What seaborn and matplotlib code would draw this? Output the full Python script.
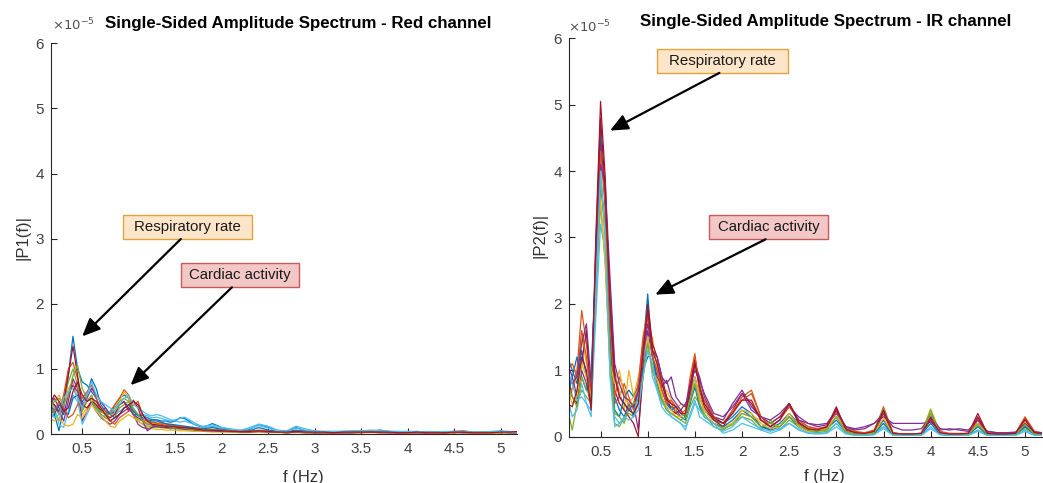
import pandas as pd
import matplotlib
matplotlib.use("Agg")
import matplotlib.pyplot as plt
from matplotlib.patches import Rectangle
import seaborn as sns

# Frequenzachse (Hz): fein bis 1.6 Hz, danach 0.1 Hz Schritte
freq_hz = [0.10, 0.15, 0.20, 0.25, 0.30, 0.35, 0.40, 0.45, 0.50, 0.55,
           0.60, 0.65, 0.70, 0.75, 0.80, 0.85, 0.90, 0.95, 1.00, 1.05,
           1.10, 1.15, 1.20, 1.25, 1.30, 1.35, 1.40, 1.45, 1.50, 1.55, 1.60,
           1.7, 1.8, 1.9, 2.0, 2.1, 2.2, 2.3, 2.4, 2.5, 2.6,
           2.7, 2.8, 2.9, 3.0, 3.1, 3.2, 3.3, 3.4, 3.5, 3.6,
           3.7, 3.8, 3.9, 4.0, 4.1, 4.2, 4.3, 4.4, 4.5, 4.6,
           4.7, 4.8, 4.9, 5.0, 5.1, 5.2]

# Amplituden in Einheiten von 1e-5, Rotkanal (eine Liste pro Messung)
red_spectra = [
    [0.5, 0.55, 0.3, 0.05, 0.4, 0.9, 1.5, 1.0, 0.8, 0.75, 0.65, 0.55, 0.35, 0.4, 0.3, 0.45, 0.55, 0.6, 0.55, 0.3,
     0.3, 0.28, 0.25, 0.22, 0.22, 0.2, 0.2, 0.18, 0.2, 0.25, 0.24,
     0.15, 0.1, 0.16, 0.1, 0.06, 0.05, 0.07, 0.15, 0.1, 0.05, 0.04, 0.1, 0.05, 0.04, 0.03, 0.03, 0.04, 0.04,
     0.03, 0.04, 0.06, 0.04, 0.03, 0.03, 0.04, 0.03, 0.03, 0.03, 0.04, 0.03, 0.02, 0.03, 0.03, 0.04, 0.03, 0.03],
    [0.4, 0.5, 0.45, 0.3, 0.6, 1.0, 1.1, 0.85, 0.4, 0.5, 0.55, 0.45, 0.3, 0.25, 0.35, 0.45, 0.55, 0.68, 0.6, 0.35,
     0.3, 0.22, 0.2, 0.18, 0.16, 0.17, 0.15, 0.14, 0.13, 0.12, 0.11,
     0.1, 0.08, 0.07, 0.06, 0.05, 0.04, 0.04, 0.06, 0.05, 0.04, 0.03, 0.05, 0.04, 0.03, 0.03, 0.03, 0.03, 0.04,
     0.05, 0.04, 0.05, 0.03, 0.03, 0.04, 0.03, 0.03, 0.03, 0.03, 0.04, 0.05, 0.03, 0.03, 0.03, 0.04, 0.03, 0.03],
    [0.3, 0.35, 0.5, 0.6, 0.45, 0.7, 0.8, 0.55, 0.3, 0.4, 0.5, 0.45, 0.4, 0.3, 0.25, 0.35, 0.5, 0.65, 0.55, 0.3,
     0.22, 0.2, 0.18, 0.15, 0.15, 0.14, 0.12, 0.12, 0.1, 0.1, 0.09,
     0.08, 0.06, 0.06, 0.05, 0.04, 0.04, 0.05, 0.05, 0.04, 0.04, 0.03, 0.04, 0.03, 0.03, 0.03, 0.03, 0.03, 0.03,
     0.04, 0.05, 0.04, 0.03, 0.02, 0.02, 0.03, 0.03, 0.02, 0.03, 0.03, 0.03, 0.02, 0.02, 0.02, 0.03, 0.02, 0.02],
    [0.35, 0.3, 0.4, 0.35, 0.2, 0.5, 0.85, 0.7, 0.2, 0.35, 0.5, 0.35, 0.25, 0.2, 0.15, 0.2, 0.3, 0.35, 0.4, 0.3,
     0.15, 0.1, 0.08, 0.1, 0.12, 0.1, 0.1, 0.08, 0.09, 0.08, 0.07,
     0.06, 0.05, 0.04, 0.04, 0.03, 0.03, 0.04, 0.04, 0.03, 0.03, 0.02, 0.03, 0.02, 0.02, 0.02, 0.02, 0.02, 0.02,
     0.03, 0.03, 0.02, 0.02, 0.02, 0.02, 0.02, 0.02, 0.02, 0.02, 0.02, 0.02, 0.02, 0.02, 0.02, 0.02, 0.02, 0.02],
    [0.45, 0.4, 0.35, 0.2, 0.5, 0.8, 1.0, 0.75, 0.35, 0.5, 0.6, 0.4, 0.3, 0.25, 0.2, 0.25, 0.4, 0.45, 0.5, 0.3,
     0.2, 0.15, 0.12, 0.12, 0.1, 0.1, 0.09, 0.09, 0.08, 0.08, 0.07,
     0.06, 0.05, 0.05, 0.04, 0.04, 0.03, 0.03, 0.04, 0.03, 0.03, 0.02, 0.03, 0.03, 0.02, 0.02, 0.02, 0.02, 0.03,
     0.03, 0.04, 0.05, 0.03, 0.02, 0.02, 0.03, 0.02, 0.02, 0.02, 0.02, 0.03, 0.02, 0.02, 0.02, 0.02, 0.02, 0.02],
    [0.55, 0.6, 0.4, 0.15, 0.1, 0.35, 0.6, 0.5, 0.15, 0.3, 0.45, 0.4, 0.25, 0.3, 0.35, 0.3, 0.35, 0.4, 0.45, 0.38,
     0.3, 0.3, 0.28, 0.25, 0.26, 0.24, 0.22, 0.2, 0.22, 0.24, 0.26,
     0.18, 0.1, 0.12, 0.08, 0.06, 0.05, 0.1, 0.15, 0.12, 0.06, 0.05, 0.12, 0.08, 0.05, 0.04, 0.04, 0.04, 0.04,
     0.04, 0.05, 0.06, 0.04, 0.04, 0.03, 0.03, 0.04, 0.03, 0.03, 0.03, 0.04, 0.03, 0.03, 0.04, 0.05, 0.04, 0.03],
    [0.7, 0.5, 0.45, 0.35, 0.5, 0.9, 1.35, 0.9, 0.45, 0.4, 0.5, 0.45, 0.35, 0.3, 0.25, 0.3, 0.45, 0.5, 0.35, 0.52,
     0.4, 0.2, 0.15, 0.14, 0.12, 0.12, 0.1, 0.1, 0.1, 0.09, 0.08,
     0.07, 0.05, 0.05, 0.05, 0.04, 0.03, 0.03, 0.04, 0.03, 0.03, 0.02, 0.03, 0.02, 0.02, 0.02, 0.02, 0.02, 0.02,
     0.02, 0.03, 0.02, 0.02, 0.02, 0.02, 0.02, 0.02, 0.02, 0.02, 0.02, 0.03, 0.02, 0.02, 0.02, 0.02, 0.03, 0.03],
    [0.3, 0.25, 0.3, 0.45, 0.35, 0.3, 0.55, 0.6, 0.5, 0.6, 0.85, 0.7, 0.45, 0.35, 0.3, 0.25, 0.3, 0.4, 0.45, 0.35,
     0.28, 0.25, 0.22, 0.2, 0.2, 0.18, 0.16, 0.15, 0.14, 0.13, 0.12,
     0.1, 0.08, 0.1, 0.07, 0.05, 0.04, 0.05, 0.1, 0.06, 0.04, 0.04, 0.06, 0.04, 0.03, 0.03, 0.03, 0.03, 0.03,
     0.03, 0.04, 0.05, 0.03, 0.03, 0.03, 0.03, 0.03, 0.03, 0.02, 0.03, 0.03, 0.02, 0.02, 0.03, 0.04, 0.03, 0.02],
    [0.25, 0.3, 0.35, 0.5, 0.4, 0.25, 0.3, 0.45, 0.55, 0.65, 0.75, 0.55, 0.4, 0.35, 0.2, 0.15, 0.25, 0.3, 0.35, 0.45,
     0.5, 0.3, 0.2, 0.18, 0.17, 0.15, 0.13, 0.12, 0.12, 0.11, 0.1,
     0.08, 0.07, 0.06, 0.06, 0.05, 0.04, 0.04, 0.05, 0.04, 0.03, 0.03, 0.04, 0.03, 0.03, 0.03, 0.03, 0.03, 0.03,
     0.03, 0.04, 0.04, 0.03, 0.03, 0.03, 0.03, 0.03, 0.02, 0.02, 0.03, 0.03, 0.02, 0.02, 0.02, 0.03, 0.02, 0.02],
    [0.2, 0.25, 0.2, 0.25, 0.15, 0.12, 0.15, 0.3, 0.25, 0.35, 0.45, 0.35, 0.28, 0.2, 0.12, 0.1, 0.2, 0.25, 0.3, 0.25,
     0.2, 0.15, 0.1, 0.08, 0.07, 0.07, 0.06, 0.06, 0.06, 0.05, 0.05,
     0.04, 0.04, 0.03, 0.03, 0.03, 0.02, 0.02, 0.03, 0.02, 0.02, 0.02, 0.02, 0.02, 0.02, 0.02, 0.02, 0.02, 0.02,
     0.02, 0.02, 0.02, 0.02, 0.02, 0.01, 0.02, 0.02, 0.01, 0.02, 0.02, 0.02, 0.01, 0.01, 0.01, 0.02, 0.02, 0.02],
    [0.5, 0.45, 0.55, 0.4, 0.3, 0.6, 0.75, 0.65, 0.45, 0.55, 0.7, 0.6, 0.5, 0.4, 0.3, 0.35, 0.45, 0.5, 0.4, 0.3,
     0.25, 0.2, 0.05, 0.1, 0.12, 0.1, 0.11, 0.1, 0.1, 0.09, 0.08,
     0.07, 0.05, 0.05, 0.04, 0.04, 0.03, 0.03, 0.04, 0.03, 0.03, 0.02, 0.03, 0.03, 0.02, 0.02, 0.02, 0.02, 0.02,
     0.03, 0.03, 0.03, 0.02, 0.02, 0.02, 0.02, 0.02, 0.02, 0.02, 0.03, 0.02, 0.02, 0.02, 0.02, 0.03, 0.02, 0.02],
    [0.3, 0.4, 0.5, 0.55, 0.45, 0.6, 0.9, 1.05, 0.7, 0.55, 0.5, 0.4, 0.35, 0.3, 0.3, 0.4, 0.5, 0.55, 0.5, 0.4,
     0.3, 0.2, 0.15, 0.15, 0.13, 0.12, 0.12, 0.11, 0.1, 0.1, 0.09,
     0.07, 0.06, 0.07, 0.05, 0.04, 0.04, 0.04, 0.05, 0.04, 0.03, 0.03, 0.04, 0.03, 0.03, 0.03, 0.03, 0.03, 0.03,
     0.04, 0.05, 0.04, 0.03, 0.03, 0.03, 0.03, 0.03, 0.03, 0.03, 0.03, 0.04, 0.03, 0.03, 0.03, 0.03, 0.03, 0.03],
    [0.45, 0.35, 0.25, 0.3, 0.55, 0.65, 0.7, 0.55, 0.4, 0.6, 0.8, 0.6, 0.5, 0.45, 0.4, 0.35, 0.45, 0.55, 0.6, 0.45,
     0.4, 0.35, 0.3, 0.28, 0.3, 0.28, 0.25, 0.22, 0.2, 0.18, 0.2,
     0.15, 0.12, 0.14, 0.1, 0.08, 0.06, 0.08, 0.13, 0.09, 0.05, 0.04, 0.09, 0.06, 0.04, 0.04, 0.04, 0.04, 0.05,
     0.05, 0.06, 0.05, 0.04, 0.04, 0.04, 0.04, 0.03, 0.03, 0.04, 0.04, 0.04, 0.03, 0.03, 0.03, 0.04, 0.03, 0.03],
    [0.4, 0.45, 0.6, 0.5, 0.35, 0.4, 0.65, 0.8, 0.6, 0.5, 0.55, 0.5, 0.4, 0.3, 0.2, 0.25, 0.3, 0.4, 0.45, 0.5,
     0.45, 0.3, 0.2, 0.15, 0.14, 0.13, 0.12, 0.12, 0.11, 0.1, 0.1,
     0.08, 0.06, 0.06, 0.05, 0.04, 0.04, 0.04, 0.05, 0.04, 0.03, 0.03, 0.04, 0.03, 0.03, 0.03, 0.02, 0.03, 0.03,
     0.03, 0.03, 0.03, 0.03, 0.02, 0.02, 0.03, 0.02, 0.02, 0.02, 0.03, 0.03, 0.02, 0.02, 0.02, 0.03, 0.03, 0.04],
]

# Amplituden in Einheiten von 1e-5, IR-Kanal
ir_spectra = [
    [1.15, 1.2, 1.0, 0.8, 1.3, 0.9, 0.6, 2.6, 4.6, 3.4, 1.6, 0.6, 0.4, 0.3, 0.5, 0.3, 0.7, 1.3, 2.15, 1.2,
     1.0, 0.7, 0.5, 0.45, 0.4, 0.3, 0.25, 0.6, 0.9, 0.6, 0.4,
     0.25, 0.2, 0.3, 0.45, 0.35, 0.15, 0.12, 0.2, 0.35, 0.2, 0.12, 0.1, 0.12, 0.3, 0.1, 0.06, 0.05, 0.06,
     0.25, 0.04, 0.03, 0.03, 0.04, 0.3, 0.06, 0.04, 0.03, 0.04, 0.2, 0.04, 0.03, 0.03, 0.04, 0.18, 0.05, 0.03],
    [0.9, 0.8, 0.7, 1.0, 1.9, 1.4, 0.7, 2.4, 3.9, 3.0, 1.3, 0.5, 0.6, 0.8, 0.6, 0.4, 0.8, 1.5, 1.9, 1.3,
     1.1, 0.8, 0.6, 0.5, 0.35, 0.3, 0.35, 0.8, 1.2, 0.8, 0.5,
     0.3, 0.2, 0.35, 0.6, 0.7, 0.3, 0.2, 0.3, 0.5, 0.25, 0.15, 0.12, 0.15, 0.4, 0.15, 0.08, 0.06, 0.1,
     0.38, 0.06, 0.04, 0.04, 0.05, 0.3, 0.08, 0.05, 0.05, 0.05, 0.28, 0.06, 0.04, 0.04, 0.05, 0.3, 0.08, 0.05],
    [0.6, 0.5, 0.7, 0.9, 1.5, 1.1, 0.8, 2.0, 4.2, 2.9, 1.4, 0.9, 0.7, 0.4, 1.0, 0.6, 0.9, 1.2, 1.4, 1.5,
     1.0, 0.6, 0.7, 0.55, 0.4, 0.5, 0.45, 0.7, 0.8, 0.55, 0.45,
     0.25, 0.15, 0.2, 0.35, 0.3, 0.25, 0.2, 0.15, 0.3, 0.2, 0.12, 0.1, 0.15, 0.3, 0.12, 0.06, 0.05, 0.08,
     0.2, 0.05, 0.04, 0.04, 0.05, 0.42, 0.06, 0.04, 0.04, 0.05, 0.15, 0.05, 0.04, 0.03, 0.04, 0.2, 0.05, 0.03],
    [1.3, 1.1, 0.9, 0.6, 1.0, 0.8, 0.45, 2.8, 4.4, 3.6, 2.2, 1.0, 0.6, 0.5, 0.4, 0.5, 0.1, 0.9, 1.6, 1.2,
     0.9, 0.75, 0.85, 0.6, 0.5, 0.4, 0.5, 0.6, 1.1, 0.9, 0.6,
     0.3, 0.25, 0.5, 0.7, 0.45, 0.3, 0.2, 0.3, 0.45, 0.3, 0.2, 0.15, 0.18, 0.35, 0.15, 0.1, 0.12, 0.2,
     0.3, 0.2, 0.2, 0.2, 0.2, 0.22, 0.1, 0.12, 0.1, 0.08, 0.2, 0.08, 0.06, 0.05, 0.06, 0.15, 0.06, 0.05],
    [0.8, 0.4, 0.1, 0.5, 0.7, 0.6, 0.5, 2.2, 3.5, 2.6, 1.0, 0.2, 0.15, 0.3, 0.35, 0.3, 0.5, 1.0, 1.3, 1.1,
     0.8, 0.6, 0.4, 0.35, 0.3, 0.25, 0.2, 0.45, 0.6, 0.5, 0.35,
     0.15, 0.1, 0.2, 0.3, 0.25, 0.1, 0.25, 0.1, 0.25, 0.15, 0.08, 0.06, 0.08, 0.2, 0.06, 0.03, 0.03, 0.05,
     0.15, 0.03, 0.02, 0.02, 0.03, 0.4, 0.04, 0.02, 0.02, 0.03, 0.1, 0.03, 0.02, 0.02, 0.03, 0.12, 0.03, 0.02],
    [0.7, 0.6, 0.3, 0.4, 0.8, 0.5, 0.4, 1.8, 3.2, 2.8, 1.2, 0.3, 0.2, 0.25, 0.4, 0.35, 0.6, 1.1, 1.5, 0.9,
     0.7, 0.5, 0.45, 0.3, 0.25, 0.2, 0.1, 0.35, 0.55, 0.3, 0.25,
     0.15, 0.08, 0.15, 0.3, 0.2, 0.12, 0.08, 0.12, 0.2, 0.12, 0.06, 0.05, 0.06, 0.2, 0.05, 0.02, 0.02, 0.03,
     0.15, 0.02, 0.02, 0.02, 0.02, 0.15, 0.03, 0.02, 0.02, 0.02, 0.1, 0.02, 0.02, 0.02, 0.02, 0.1, 0.02, 0.02],
    [1.0, 0.9, 0.6, 0.5, 1.1, 1.6, 0.5, 3.0, 5.05, 3.9, 1.8, 0.7, 0.5, 0.4, 0.3, 0.2, 0.0, 1.1, 2.0, 1.4,
     1.2, 0.9, 0.6, 0.4, 0.35, 0.4, 0.3, 0.75, 1.15, 0.7, 0.45,
     0.25, 0.15, 0.4, 0.65, 0.5, 0.25, 0.15, 0.25, 0.5, 0.2, 0.1, 0.08, 0.15, 0.45, 0.1, 0.05, 0.04, 0.06,
     0.35, 0.04, 0.04, 0.04, 0.04, 0.25, 0.05, 0.04, 0.04, 0.05, 0.35, 0.05, 0.04, 0.04, 0.04, 0.25, 0.05, 0.04],
    [0.5, 0.6, 0.9, 1.2, 0.9, 0.7, 1.0, 2.5, 3.8, 3.2, 1.5, 0.4, 0.3, 0.6, 0.7, 0.6, 0.75, 1.0, 1.2, 1.25,
     0.8, 0.55, 0.5, 0.4, 0.45, 0.35, 0.3, 0.5, 0.75, 0.45, 0.3,
     0.2, 0.15, 0.25, 0.4, 0.3, 0.15, 0.1, 0.15, 0.3, 0.15, 0.1, 0.1, 0.12, 0.25, 0.08, 0.04, 0.03, 0.05,
     0.2, 0.03, 0.02, 0.02, 0.03, 0.2, 0.04, 0.02, 0.02, 0.03, 0.15, 0.03, 0.02, 0.02, 0.03, 0.15, 0.04, 0.02],
    [1.2, 1.0, 1.1, 0.9, 1.6, 1.2, 0.55, 2.7, 4.3, 3.5, 1.7, 0.6, 0.9, 0.7, 0.45, 0.5, 0.8, 1.4, 1.8, 1.2,
     1.0, 0.7, 0.5, 0.55, 0.45, 0.35, 0.4, 0.9, 1.25, 0.7, 0.55,
     0.3, 0.2, 0.4, 0.55, 0.65, 0.3, 0.15, 0.25, 0.45, 0.25, 0.15, 0.12, 0.15, 0.38, 0.12, 0.06, 0.05, 0.08,
     0.45, 0.06, 0.04, 0.04, 0.05, 0.35, 0.06, 0.04, 0.04, 0.05, 0.25, 0.05, 0.04, 0.04, 0.05, 0.28, 0.06, 0.04],
    [0.9, 0.7, 0.5, 0.6, 1.1, 0.9, 0.6, 2.3, 3.6, 2.6, 1.1, 0.8, 1.0, 0.6, 0.5, 0.6, 0.7, 1.2, 1.5, 1.0,
     0.85, 0.6, 0.45, 0.4, 0.3, 0.3, 0.35, 0.55, 0.9, 0.6, 0.4,
     0.2, 0.12, 0.2, 0.4, 0.35, 0.2, 0.12, 0.15, 0.35, 0.15, 0.08, 0.1, 0.12, 0.3, 0.08, 0.04, 0.03, 0.06,
     0.28, 0.04, 0.03, 0.03, 0.04, 0.3, 0.05, 0.03, 0.03, 0.04, 0.2, 0.04, 0.03, 0.03, 0.03, 0.22, 0.05, 0.03],
    [1.1, 0.9, 0.8, 0.9, 1.4, 1.7, 0.8, 2.6, 4.1, 3.8, 2.4, 1.1, 0.8, 0.6, 0.55, 0.45, 0.7, 1.2, 1.7, 1.3,
     1.2, 0.9, 0.8, 0.9, 0.6, 0.5, 0.45, 0.8, 1.0, 0.85, 0.65,
     0.35, 0.3, 0.45, 0.65, 0.4, 0.3, 0.25, 0.35, 0.5, 0.25, 0.2, 0.18, 0.2, 0.4, 0.15, 0.12, 0.15, 0.2,
     0.35, 0.15, 0.1, 0.1, 0.12, 0.3, 0.12, 0.1, 0.12, 0.1, 0.25, 0.08, 0.06, 0.06, 0.07, 0.2, 0.07, 0.06],
    [0.95, 0.8, 0.6, 0.45, 0.9, 0.7, 0.6, 2.1, 3.9, 3.1, 1.2, 0.35, 0.3, 0.2, 0.45, 0.5, 0.55, 0.9, 1.4, 1.0,
     0.75, 0.55, 0.4, 0.35, 0.3, 0.25, 0.3, 0.55, 0.8, 0.5, 0.3,
     0.2, 0.12, 0.18, 0.35, 0.3, 0.15, 0.2, 0.15, 0.3, 0.18, 0.1, 0.08, 0.1, 0.3, 0.08, 0.04, 0.03, 0.05,
     0.42, 0.04, 0.03, 0.03, 0.04, 0.35, 0.05, 0.03, 0.03, 0.04, 0.18, 0.04, 0.03, 0.03, 0.03, 0.18, 0.04, 0.03],
    [1.25, 1.0, 0.8, 0.55, 0.6, 0.5, 0.3, 2.2, 4.0, 3.0, 0.9, 0.15, 0.2, 0.3, 0.25, 0.3, 0.4, 0.9, 1.3, 1.1,
     0.7, 0.45, 0.35, 0.3, 0.25, 0.2, 0.15, 0.3, 0.5, 0.4, 0.3,
     0.2, 0.05, 0.1, 0.2, 0.15, 0.1, 0.05, 0.1, 0.2, 0.1, 0.05, 0.04, 0.05, 0.15, 0.04, 0.02, 0.02, 0.03,
     0.12, 0.02, 0.02, 0.02, 0.02, 0.12, 0.03, 0.02, 0.02, 0.02, 0.08, 0.02, 0.02, 0.02, 0.02, 0.08, 0.02, 0.02],
    [0.6, 0.5, 0.45, 0.7, 1.2, 1.0, 0.4, 2.9, 4.8, 3.7, 2.0, 0.9, 0.6, 0.5, 0.4, 0.35, 0.5, 1.3, 1.9, 1.3,
     1.1, 0.8, 0.55, 0.5, 0.45, 0.35, 0.35, 0.7, 1.1, 0.75, 0.5,
     0.28, 0.2, 0.35, 0.55, 0.55, 0.25, 0.15, 0.25, 0.5, 0.22, 0.12, 0.1, 0.15, 0.42, 0.12, 0.06, 0.05, 0.08,
     0.4, 0.05, 0.04, 0.04, 0.05, 0.28, 0.06, 0.04, 0.04, 0.05, 0.3, 0.05, 0.04, 0.04, 0.05, 0.26, 0.06, 0.04],
]

x_ticks = [0.5, 1, 1.5, 2, 2.5, 3, 3.5, 4, 4.5, 5]
x_ticklabels = ["0.5", "1", "1.5", "2", "2.5", "3", "3.5", "4", "4.5", "5"]
y_ticks = [0, 1, 2, 3, 4, 5, 6]

# MATLAB Standardfarben
matlab_colors = ["#0072BD", "#D95319", "#EDB120", "#7E2F8E", "#77AC30", "#4DBEEE", "#A2142F"]


def to_long(spectra):
    rows = []
    for k, amps in enumerate(spectra):
        assert len(amps) == len(freq_hz)
        for f, a in zip(freq_hz, amps):
            rows.append({"f": f, "amp": a, "trace": k})
    return pd.DataFrame(rows)


sns.set_theme(style="white")
plt.rcParams["font.family"] = ["Liberation Sans", "DejaVu Sans"]

fig = plt.figure(figsize=(10.43, 4.83), dpi=100)
ax_red = fig.add_axes([0.049, 0.1014, 0.447, 0.8089])
ax_ir = fig.add_axes([0.5455, 0.0959, 0.4535, 0.8248])

for ax, spectra in [(ax_red, red_spectra), (ax_ir, ir_spectra)]:
    df = to_long(spectra)
    pal = [matlab_colors[k % 7] for k in range(len(spectra))]
    sns.lineplot(data=df, x="f", y="amp", hue="trace", palette=pal,
                 estimator=None, legend=False, linewidth=0.9, ax=ax)
    ax.set_xlim(0.165, 5.18)
    ax.set_ylim(0, 6)
    ax.set_xticks(x_ticks)
    ax.set_xticklabels(x_ticklabels)
    ax.set_yticks(y_ticks)
    ax.set_xlabel("")
    ax.set_ylabel("")
    for s in ["top", "right"]:
        ax.spines[s].set_visible(False)
    for s in ["left", "bottom"]:
        ax.spines[s].set_color("#262626")
        ax.spines[s].set_linewidth(0.8)
    ax.tick_params(direction="in", length=4, width=0.8, color="#262626",
                   labelsize=11, labelcolor="#404040", left=True, bottom=True)
    ax.tick_params(axis="x", pad=6)
    ax.tick_params(axis="y", pad=5)

ax_red.text(0.53, 1.05, "Single-Sided Amplitude Spectrum - Red channel", transform=ax_red.transAxes,
            ha="center", va="center", fontsize=12.2, fontweight="bold", color="black")
ax_ir.text(0.543, 1.041, "Single-Sided Amplitude Spectrum - IR channel", transform=ax_ir.transAxes,
           ha="center", va="center", fontsize=12.2, fontweight="bold", color="black")

ax_red.text(0.002, 1.047, r"$\times10^{-5}$", transform=ax_red.transAxes,
            ha="left", va="center", fontsize=9.5, color="#505050")
ax_ir.text(-0.003, 1.029, r"$\times10^{-5}$", transform=ax_ir.transAxes,
           ha="left", va="center", fontsize=9.5, color="#505050")

ax_red.text(-0.06, 0.504, "|P1(f)|", transform=ax_red.transAxes, rotation=90,
            ha="center", va="center", fontsize=12, color="#333333")
ax_ir.text(-0.0605, 0.506, "|P2(f)|", transform=ax_ir.transAxes, rotation=90,
           ha="center", va="center", fontsize=12, color="#333333")

ax_red.text(0.541, -0.11, "f (Hz)", transform=ax_red.transAxes,
            ha="center", va="center", fontsize=12, color="#333333")
ax_ir.text(0.54, -0.101, "f (Hz)", transform=ax_ir.transAxes,
           ha="center", va="center", fontsize=12, color="#333333")

resp_style = dict(fc="#FDE5C9", ec="#E2A33A")
card_style = dict(fc="#F4C7C7", ec="#C65B5B")
arrow = dict(arrowstyle="-|>,head_length=0.9,head_width=0.4", color="black", lw=1.6,
             shrinkA=0, shrinkB=0)

# (Achse, Text, Box x0, x1, y0, y1, Pfeilstart, Pfeilspitze, Stil)
notes = [
    (ax_red, "Respiratory rate", 0.939, 2.325, 2.995, 3.364, (1.56, 2.995), (0.50, 1.50), resp_style),
    (ax_red, "Cardiac activity", 1.561, 2.829, 2.253, 2.622, (2.11, 2.253), (1.02, 0.75), card_style),
    (ax_ir, "Respiratory rate", 1.096, 2.487, 5.479, 5.839, (1.76, 5.479), (0.60, 4.61), resp_style),
    (ax_ir, "Cardiac activity", 1.649, 2.912, 2.973, 3.339, (2.25, 2.973), (1.08, 2.14), card_style),
]
for ax, label, x0, x1, y0, y1, tail, head, st in notes:
    ax.add_patch(Rectangle((x0, y0), x1 - x0, y1 - y0, lw=1, zorder=5, **st))
    ax.text((x0 + x1) / 2, (y0 + y1) / 2, label, ha="center", va="center",
            fontsize=10.8, color="#1a1a1a", zorder=6)
    ax.annotate("", xy=head, xytext=tail, arrowprops=arrow, zorder=6)

fig.savefig("out.png", dpi=100)
